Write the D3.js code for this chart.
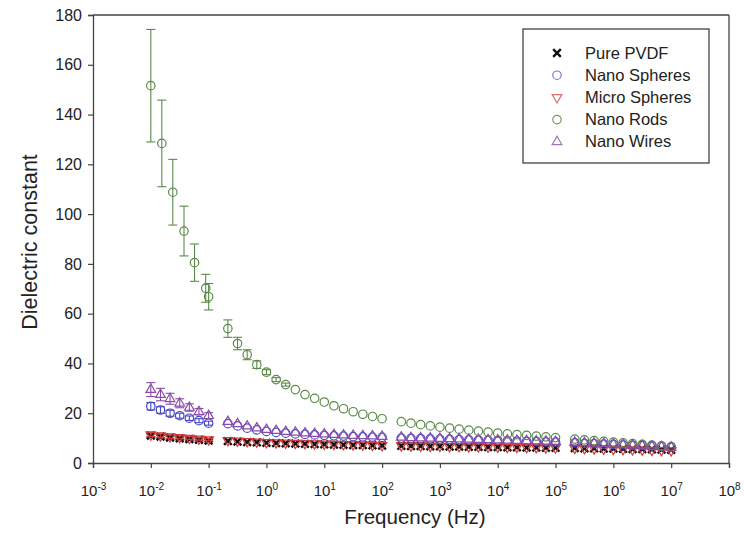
<!DOCTYPE html>
<html>
<head>
<meta charset="utf-8">
<script src="https://cdn.jsdelivr.net/npm/d3@7"></script>
<style>
  body { margin: 0; background: #fff; }
  text { font-family: Arial, "Liberation Sans", Helvetica, sans-serif; fill: #222; }
</style>
</head>
<body>
<svg width="744" height="542"></svg>
<script>
var svg = d3.select("svg"),
  width = +svg.attr("width"),
  height = +svg.attr("height");

// frequencies (Hz)
var freqLow = [0.01, 0.0147, 0.0215, 0.0316, 0.0464, 0.0681, 0.1];
var freqLowRods = [0.01, 0.0155, 0.024, 0.0375, 0.057, 0.089, 0.1];
var freqHigh = [0.215, 0.316, 0.464, 0.681,
  1, 1.47, 2.15, 3.16, 4.64, 6.81, 10, 14.7, 21.5, 31.6, 46.4, 68.1, 100,
  215, 316, 464, 681, 1000, 1470, 2150, 3160, 4640, 6810, 1e4, 1.47e4, 2.15e4, 3.16e4, 4.64e4, 6.81e4, 1e5,
  2.15e5, 3.16e5, 4.64e5, 6.81e5, 1e6, 1.47e6, 2.15e6, 3.16e6, 4.64e6, 6.81e6, 1e7];

var seriesNames = ["Pure PVDF", "Nano Spheres", "Micro Spheres", "Nano Rods", "Nano Wires"];

var pvdf = [11.0, 10.6, 10.2, 9.9, 9.6, 9.3, 9.0,
  8.8, 8.6, 8.4, 8.3,
  8.1, 8.0, 7.9, 7.8, 7.7, 7.6, 7.5, 7.4, 7.3, 7.2, 7.2, 7.1, 7.0,
  6.9, 6.8, 6.8, 6.7, 6.7, 6.6, 6.6, 6.5, 6.5, 6.4, 6.4, 6.3, 6.3, 6.2, 6.2, 6.1, 6.1,
  6.0, 5.9, 5.9, 5.8, 5.8, 5.7, 5.6, 5.6, 5.5, 5.4, 5.3];
var nanoSpheres = [22.8, 21.3, 20.0, 19.0, 18.0, 17.0, 16.0,
  15.8, 14.9, 14.0, 13.3,
  12.7, 12.3, 12.0, 11.7, 11.5, 11.3, 11.1, 10.9, 10.8, 10.6, 10.5, 10.4, 10.3,
  10.0, 9.9, 9.8, 9.7, 9.6, 9.5, 9.4, 9.3, 9.2, 9.1, 9.0, 8.9, 8.8, 8.7, 8.6, 8.5, 8.4,
  8.1, 7.9, 7.8, 7.6, 7.5, 7.3, 7.1, 7.0, 6.8, 6.6, 6.4];
var microSpheres = [11.4, 11.0, 10.6, 10.3, 10.0, 9.7, 9.4,
  9.1, 8.9, 8.7, 8.5,
  8.3, 8.2, 8.1, 8.0, 7.9, 7.8, 7.7, 7.6, 7.5, 7.4, 7.3, 7.2, 7.1,
  7.0, 6.9, 6.9, 6.8, 6.8, 6.7, 6.7, 6.6, 6.6, 6.5, 6.5, 6.4, 6.4, 6.3, 6.3, 6.2, 6.2,
  6.0, 5.9, 5.8, 5.7, 5.6, 5.5, 5.4, 5.3, 5.2, 5.1, 5.0];
var nanoRods = [151.6, 128.4, 108.8, 93.2, 80.5, 70.2, 66.8,
  54.0, 48.0, 43.5, 39.5,
  36.5, 33.5, 31.5, 29.5, 27.5, 26.0, 24.5, 23.0, 21.8, 20.6, 19.6, 18.7, 17.8,
  16.6, 16.0, 15.4, 14.9, 14.4, 14.0, 13.6, 13.2, 12.8, 12.4, 12.0, 11.7, 11.4, 11.1, 10.8, 10.5, 10.2,
  9.6, 9.3, 9.0, 8.7, 8.4, 8.1, 7.8, 7.5, 7.2, 6.9, 6.6];
var nanoWires = [29.5, 27.5, 25.8, 24.0, 22.3, 20.6, 19.0,
  16.6, 15.7, 14.8, 14.0,
  13.4, 13.0, 12.6, 12.3, 12.0, 11.8, 11.6, 11.4, 11.2, 11.0, 10.9, 10.8, 10.6,
  10.3, 10.1, 10.0, 9.9, 9.8, 9.7, 9.6, 9.5, 9.4, 9.3, 9.2, 9.1, 9.0, 8.9, 8.8, 8.7, 8.6,
  8.3, 8.1, 7.9, 7.7, 7.5, 7.3, 7.1, 6.9, 6.7, 6.5, 6.3];

// standard deviations, first points only (rest are hidden by the markers)
var pvdfErr = [0.6, 0.5, 0.5, 0.5, 0.4, 0.4, 0.4];
var nanoSpheresErr = [1.5, 1.3, 1.2, 1.0, 0.9, 0.8, 0.8];
var microSpheresErr = [0.8, 0.7, 0.7, 0.6, 0.6, 0.5, 0.5];
var nanoRodsErr = [22.6, 17.4, 13.2, 10.0, 7.5, 5.6, 5.3, 3.5, 2.5, 2.0, 1.5, 1.0, 0.8, 0.6];
var nanoWiresErr = [2.8, 2.5, 2.2, 1.8, 1.5, 1.3, 1.2];

var xTicks = [1e-3, 1e-2, 1e-1, 1e0, 1e1, 1e2, 1e3, 1e4, 1e5, 1e6, 1e7, 1e8];
var yTicks = [0, 20, 40, 60, 80, 100, 120, 140, 160, 180];

var plotLeft = 93, plotRight = 729, plotTop = 15, plotBottom = 463;
var axisColor = "#444";

var x = d3.scaleLog().domain([1e-3, 1e8]).range([plotLeft, plotRight]);
var y = d3.scaleLinear().domain([0, 180]).range([plotBottom, plotTop]);

var freqAll = freqLow.concat(freqHigh);
var freqRods = freqLowRods.concat(freqHigh);

var series = [
  { name: seriesNames[0], f: freqAll, v: pvdf, e: pvdfErr, color: "#111", legend: "#111", shape: "x" },
  { name: seriesNames[1], f: freqAll, v: nanoSpheres, e: nanoSpheresErr, color: "#4646c8", legend: "#7878d8", shape: "circle" },
  { name: seriesNames[2], f: freqAll, v: microSpheres, e: microSpheresErr, color: "#d23c3c", legend: "#dc6e6e", shape: "down" },
  { name: seriesNames[3], f: freqRods, v: nanoRods, e: nanoRodsErr, color: "#5a8a48", legend: "#6e9a5e", shape: "circle" },
  { name: seriesNames[4], f: freqAll, v: nanoWires, e: nanoWiresErr, color: "#8a4ca8", legend: "#a078b8", shape: "up" }
];

function symbolPath(shape) {
  if (shape === "x") return d3.symbol().type(d3.symbolX).size(40)();
  if (shape === "circle") return d3.symbol().type(d3.symbolCircle).size(56)();
  return d3.symbol().type(d3.symbolTriangle).size(40)();
}

function drawMarker(g, shape, color) {
  var p = g.append("path")
    .attr("d", symbolPath(shape))
    .attr("fill", "none")
    .attr("stroke", color)
    .attr("stroke-width", shape === "x" ? 2.4 : 1.2);
  if (shape === "down") p.attr("transform", "rotate(180)");
  return p;
}

// axes
var xAxis = d3.axisBottom(x).tickValues(xTicks).tickSize(5).tickFormat("");
var gx = svg.append("g").attr("transform", "translate(0," + plotBottom + ")").call(xAxis);
gx.select(".domain").attr("stroke", axisColor).attr("stroke-width", 1.3);
gx.selectAll(".tick line").attr("stroke", axisColor).attr("stroke-width", 1.2);
gx.selectAll(".tick").each(function (d) {
  var t = d3.select(this).append("text")
    .attr("y", 33)
    .attr("text-anchor", "middle")
    .attr("font-size", 15)
    .attr("fill", "#222");
  t.append("tspan").text("10");
  t.append("tspan").attr("dy", -6).attr("font-size", 10).text(Math.round(Math.log10(d)));
});

var yAxis = d3.axisLeft(y).tickValues(yTicks).tickSize(5).tickPadding(6);
var gy = svg.append("g").attr("transform", "translate(" + plotLeft + ",0)").call(yAxis);
gy.select(".domain").attr("stroke", axisColor).attr("stroke-width", 1.3);
gy.selectAll(".tick line").attr("stroke", axisColor).attr("stroke-width", 1.2);
gy.selectAll(".tick text").attr("font-size", 16).attr("fill", "#222");

// frame top and right
svg.append("line").attr("x1", plotLeft).attr("x2", plotRight).attr("y1", plotTop).attr("y2", plotTop)
  .attr("stroke", axisColor).attr("stroke-width", 1.3);
svg.append("line").attr("x1", plotRight).attr("x2", plotRight).attr("y1", plotTop).attr("y2", plotBottom)
  .attr("stroke", axisColor).attr("stroke-width", 1.3);

// axis titles
svg.append("text")
  .attr("x", 415)
  .attr("y", 524)
  .attr("text-anchor", "middle")
  .attr("font-size", 20.5)
  .text("Frequency (Hz)");
svg.append("text")
  .attr("transform", "translate(37,242) rotate(-90)")
  .attr("text-anchor", "middle")
  .attr("font-size", 21.5)
  .text("Dielectric constant");

// data
series.forEach(function (s) {
  var g = svg.append("g");
  var pts = s.f.map(function (f, i) {
    return { f: f, v: s.v[i], e: s.e[i] || 0 };
  });
  var bars = pts.filter(function (d) { return d.e > 0; });
  bars.forEach(function (d) {
    var cx = x(d.f);
    var y1 = y(d.v + d.e), y2 = y(d.v - d.e);
    g.append("line").attr("x1", cx).attr("x2", cx).attr("y1", y1).attr("y2", y2)
      .attr("stroke", s.color).attr("stroke-width", 1.1);
    [y1, y2].forEach(function (yy) {
      g.append("line").attr("x1", cx - 4.5).attr("x2", cx + 4.5).attr("y1", yy).attr("y2", yy)
        .attr("stroke", s.color).attr("stroke-width", 1.1);
    });
  });
  pts.forEach(function (d) {
    var m = g.append("g").attr("transform", "translate(" + x(d.f) + "," + y(d.v) + ")");
    drawMarker(m, s.shape, s.color);
  });
});

// legend
var legend = svg.append("g");
legend.append("rect")
  .attr("x", 523).attr("y", 29).attr("width", 186).attr("height", 134)
  .attr("fill", "#fff").attr("stroke", axisColor).attr("stroke-width", 1.3);
series.forEach(function (s, i) {
  var row = legend.append("g").attr("transform", "translate(557," + (53 + i * 22.2) + ")");
  drawMarker(row, s.shape, s.legend);
  row.append("text").attr("x", 28).attr("y", 5.5).attr("font-size", 16.5).text(s.name);
});
</script>
</body>
</html>
